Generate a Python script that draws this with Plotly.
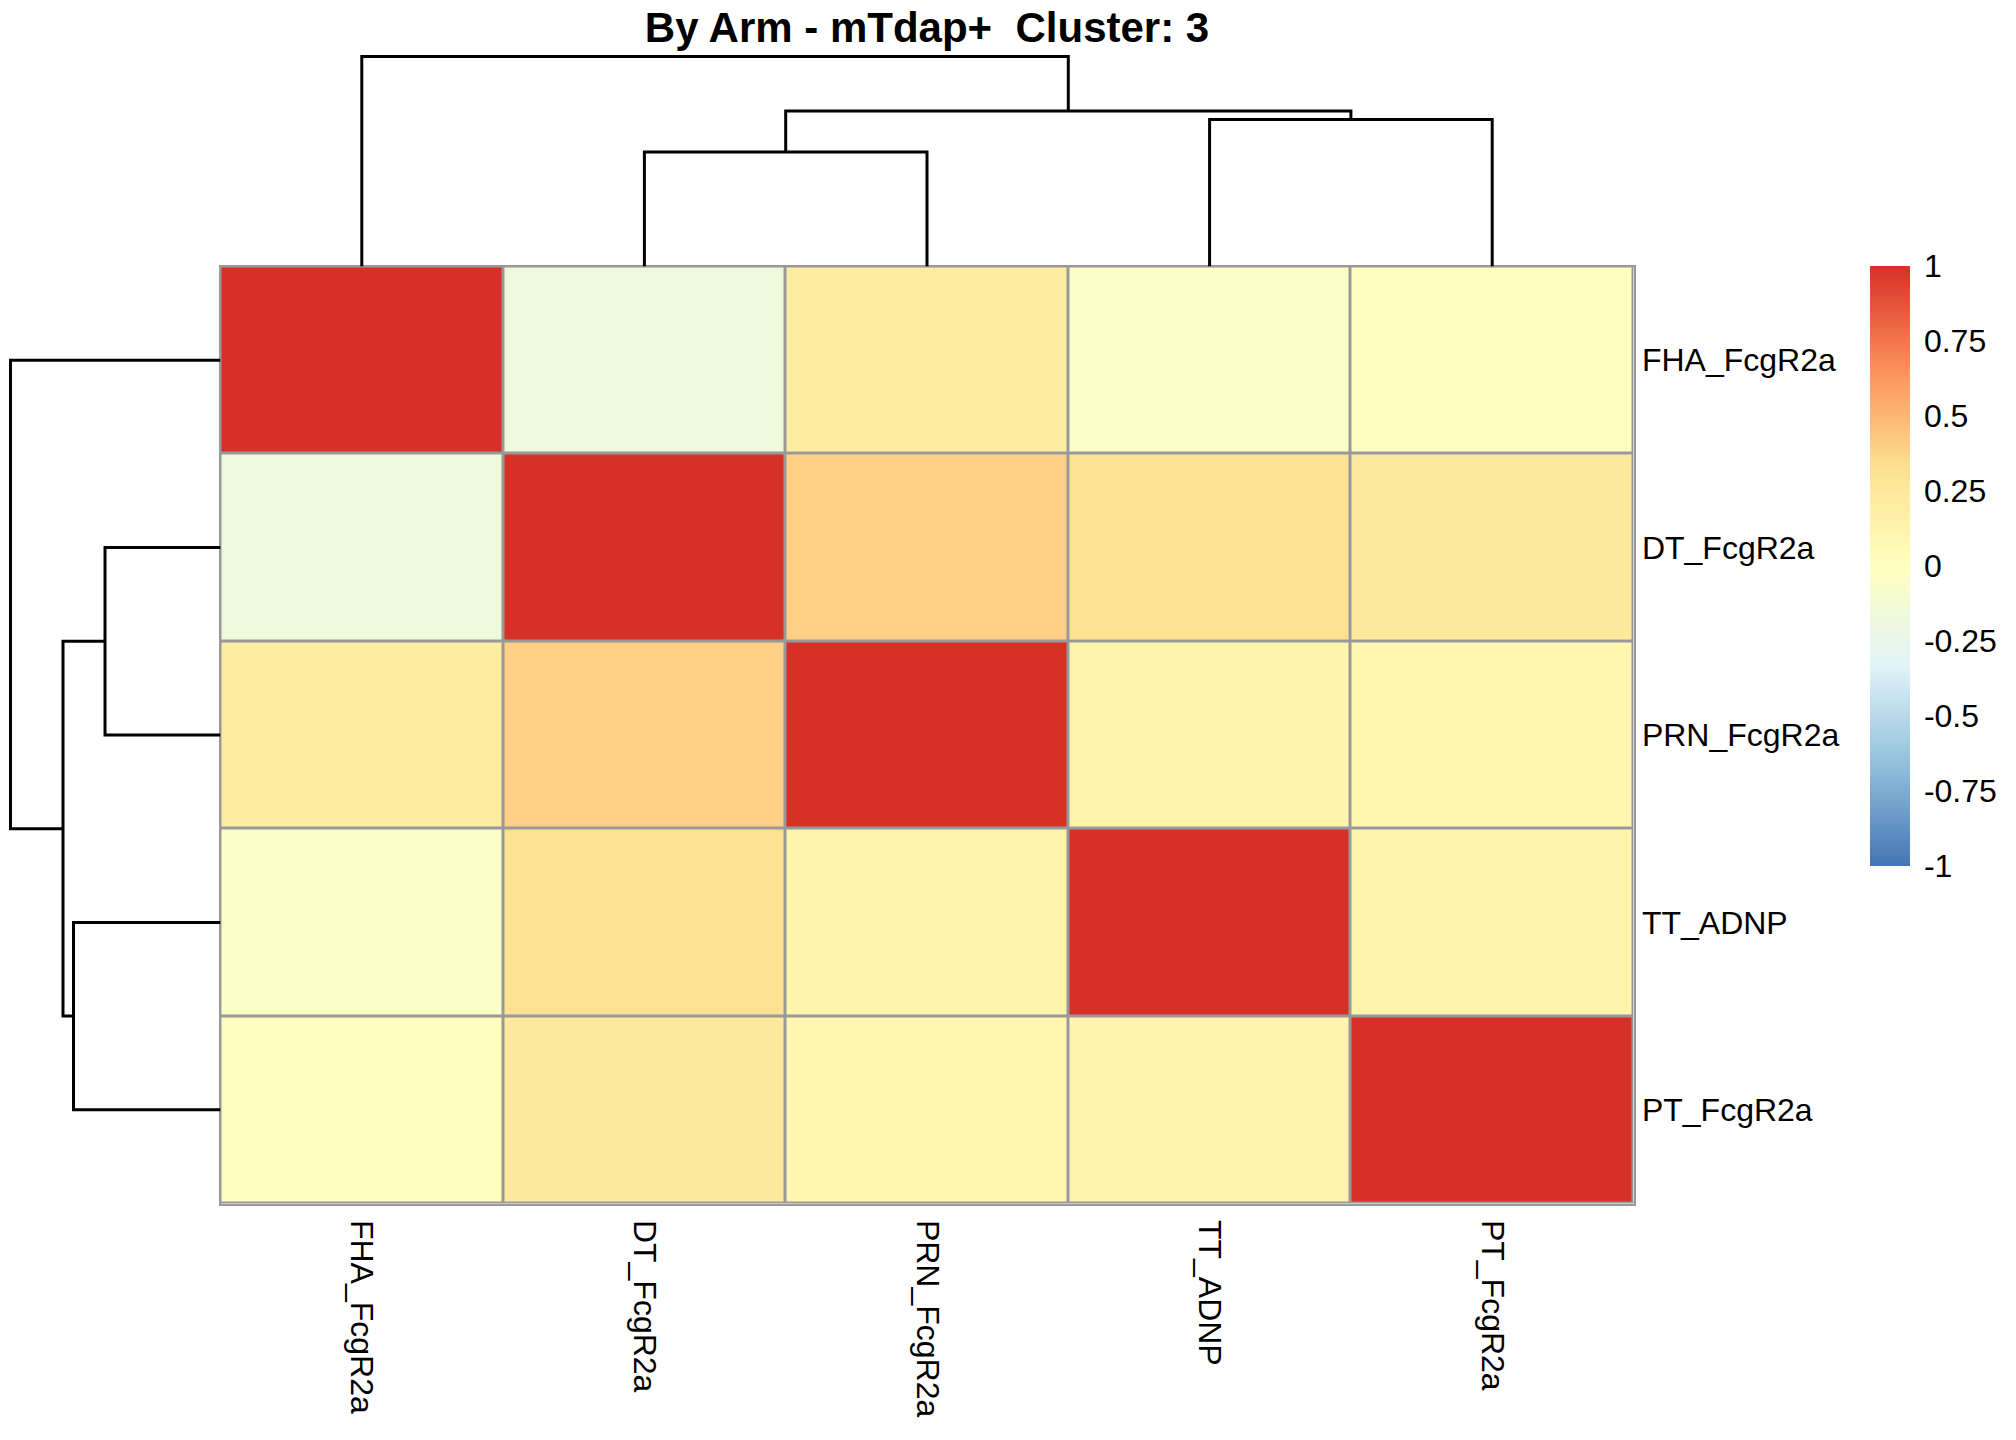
import plotly.graph_objects as go

# correlation matrix, rows/cols already in cluster order
labels = ["FHA_FcgR2a", "DT_FcgR2a", "PRN_FcgR2a", "TT_ADNP", "PT_FcgR2a"]
fha = [1.00, -0.17, 0.20, -0.04, 0.01]
dt = [-0.17, 1.00, 0.40, 0.31, 0.23]
prn = [0.20, 0.40, 1.00, 0.12, 0.10]
tt = [-0.04, 0.31, 0.12, 1.00, 0.12]
pt = [0.01, 0.23, 0.10, 0.12, 1.00]
z = [fha, dt, prn, tt, pt]

# hclust style merges (negative = leaf position, 1-based; positive = earlier merge)
merge = [[-2, -3], [-4, -5], [1, 2], [-1, 3]]
col_heights = [0.545, 0.70, 0.74, 1.0]
row_heights = [0.55, 0.70, 0.75, 1.0]

cbar_ticks = [-1, -0.75, -0.5, -0.25, 0, 0.25, 0.5, 0.75, 1]
cbar_text = ["-1", "-0.75", "-0.5", "-0.25", "0", "0.25", "0.5", "0.75", "1"]

# rev(brewer.pal(7, "RdYlBu"))
pal = ["#4575B4", "#91BFDB", "#E0F3F8", "#FFFFBF", "#FEE090", "#FC8D59", "#D73027"]
cscale = [[i / (len(pal) - 1), c] for i, c in enumerate(pal)]

# page has an 8px body margin, so the figure is a bit smaller than the window
OFF = 8
W, H = 2016 - 2 * OFF, 1440 - 2 * OFF
hm_l, hm_r = 220.5 - OFF, 1633.5 - OFF
hm_t, hm_b = 266.5 - OFF, 1203.5 - OFF
col_root = 56.5 - OFF
row_root = 10.5 - OFF
FONT = "Liberation Sans, Arial, sans-serif"


def dendro_segments(merge, heights):
    # polylines (pos, height), pos in 0-based leaf units
    pos, hgt = {}, {}
    segs = []
    for k, (a, b) in enumerate(merge, start=1):
        pts = []
        for c in (a, b):
            if c < 0:
                pts.append((-c - 1, 0.0))
            else:
                pts.append((pos[c], hgt[c]))
        h = heights[k - 1]
        (p1, h1), (p2, h2) = pts
        segs.append([(p1, h1), (p1, h), (p2, h), (p2, h2)])
        pos[k] = (p1 + p2) / 2
        hgt[k] = h
    return segs


fig = go.Figure()

fig.add_trace(go.Heatmap(
    z=z, x=list(range(len(labels))), y=list(range(len(labels))),
    zmin=-1, zmax=1, colorscale=cscale, xgap=3, ygap=3,
    hoverinfo="skip",
    colorbar=dict(
        x=(1870 - OFF) / W, xanchor="left", xpad=0,
        y=1 - (265.7 - OFF) / H, yanchor="top", ypad=0,
        thickness=40, thicknessmode="pixels",
        len=600, lenmode="pixels",
        outlinewidth=0, ticks="outside", ticklen=8,
        tickcolor="rgba(0,0,0,0)",
        tickvals=cbar_ticks, ticktext=cbar_text,
        tickfont=dict(family=FONT, size=32, color="black"),
    ),
))

for seg in dendro_segments(merge, col_heights):
    fig.add_trace(go.Scatter(
        x=[p for p, _ in seg], y=[h for _, h in seg], mode="lines",
        line=dict(color="black", width=3), hoverinfo="skip",
        showlegend=False, xaxis="x2", yaxis="y2"))

for seg in dendro_segments(merge, row_heights):
    fig.add_trace(go.Scatter(
        x=[h for _, h in seg], y=[p for p, _ in seg], mode="lines",
        line=dict(color="black", width=3), hoverinfo="skip",
        showlegend=False, xaxis="x3", yaxis="y3"))

n = len(labels)
pad = 0.012
col_span = hm_t - col_root
row_span = hm_l - row_root

fig.add_shape(type="rect", xref="x domain", yref="y domain",
              x0=0, x1=1, y0=0, y1=1, fillcolor="#999999",
              line=dict(width=0), layer="below")

fig.update_layout(
    width=W, height=H,
    margin=dict(l=0, r=0, t=0, b=0),
    paper_bgcolor="white", plot_bgcolor="white",
    showlegend=False,
    title=dict(text="<b>By Arm - mTdap+&nbsp; Cluster: 3</b>",
               x=(hm_l + hm_r) / 2 / W, xanchor="center",
               y=1 - (27 - OFF) / H, yanchor="middle",
               font=dict(family=FONT, size=42, color="black")),
    xaxis=dict(domain=[hm_l / W, hm_r / W], range=[-0.5, n - 0.5],
               tickvals=list(range(n)), ticktext=labels, tickangle=90,
               ticks="", ticklabelstandoff=8, showgrid=False, zeroline=False,
               showline=True, mirror=True, linecolor="#999999", linewidth=2,
               tickfont=dict(family=FONT, size=32, color="black")),
    yaxis=dict(domain=[1 - hm_b / H, 1 - hm_t / H], range=[n - 0.5, -0.5],
               tickvals=list(range(n)), ticktext=labels, side="right",
               ticks="", showgrid=False, zeroline=False,
               showline=True, mirror=True, linecolor="#999999", linewidth=2,
               tickfont=dict(family=FONT, size=32, color="black")),
    xaxis2=dict(domain=[hm_l / W, hm_r / W], range=[-0.5, n - 0.5],
                visible=False, anchor="y2"),
    yaxis2=dict(domain=[1 - hm_t / H, 1 - (col_root - pad * col_span) / H],
                range=[0, 1 + pad], visible=False, anchor="x2"),
    xaxis3=dict(domain=[max(0, row_root - pad * row_span) / W, hm_l / W],
                range=[1 + pad, 0], visible=False, anchor="y3"),
    yaxis3=dict(domain=[1 - hm_b / H, 1 - hm_t / H], range=[n - 0.5, -0.5],
                visible=False, anchor="x3"),
)

fig.write_html("out.html")
